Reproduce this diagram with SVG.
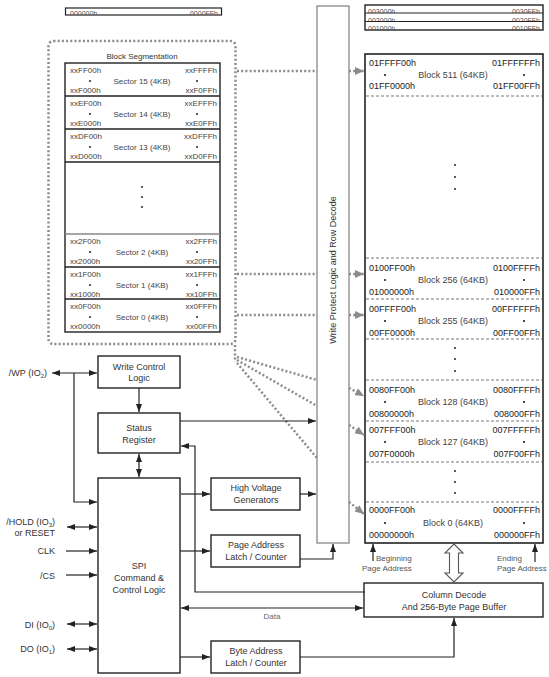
<svg xmlns="http://www.w3.org/2000/svg" width="549" height="677" viewBox="0 0 549 677">
<style>
text{font-family:"Liberation Sans",Arial,sans-serif;fill:#333}
.t9{font-size:9px}
.t8{font-size:8px;fill:#444}
.t7{font-size:7px;fill:#555}
.addr{font-size:9px;fill:#222}
.lbl{font-size:9px;fill:#444}
.box{fill:#fff;stroke:#222;stroke-width:1.4}
.ln{fill:none;stroke:#222;stroke-width:1.2}
.dot{fill:none;stroke:#8c8c8c;stroke-width:2.5;stroke-dasharray:2 2.2}
.dash{stroke:#555;stroke-width:0.8;stroke-dasharray:3 2}
.m{text-anchor:middle}
.e{text-anchor:end}
</style>
<defs>
<marker id="ab" viewBox="0 0 10 10" refX="10" refY="5" markerUnits="userSpaceOnUse" markerWidth="8" markerHeight="6" preserveAspectRatio="none" orient="auto-start-reverse"><path d="M0,0 L10,5 L0,10 z" fill="#222"/></marker>
<marker id="ag" viewBox="0 0 10 10" refX="10" refY="5" markerUnits="userSpaceOnUse" markerWidth="9" markerHeight="8" preserveAspectRatio="none" orient="auto"><path d="M0,0 L10,5 L0,10 z" fill="#8c8c8c"/></marker>
<clipPath id="r1"><rect x="365" y="5" width="178" height="8"/></clipPath>
<clipPath id="r2"><rect x="365" y="13" width="178" height="8.5"/></clipPath>
<clipPath id="r3"><rect x="365" y="21.5" width="178" height="8.5"/></clipPath>
<clipPath id="r0"><rect x="65" y="8" width="157" height="7"/></clipPath>
</defs>

<!-- top strips -->
<g id="strip-left">
<rect x="65.5" y="8" width="156" height="7" fill="#fff" stroke="#222" stroke-width="1.2"/>
<g clip-path="url(#r0)"><text class="t7" x="70" y="16">000000h</text><text class="t7 e" x="218" y="16">0000FFh</text></g>
</g>
<g id="strip-right">
<rect x="365" y="5" width="178" height="25" fill="#fff" stroke="#222" stroke-width="1.4"/>
<g clip-path="url(#r1)"><text class="t7" x="368" y="14">003000h</text><text class="t7 e" x="540" y="14">0030FFh</text></g>
<g clip-path="url(#r2)"><text class="t7" x="368" y="22.5">002000h</text><text class="t7 e" x="540" y="22.5">0020FFh</text></g>
<g clip-path="url(#r3)"><text class="t7" x="368" y="31">001000h</text><text class="t7 e" x="540" y="31">0010FFh</text></g>
<line x1="365" y1="13" x2="543" y2="13" stroke="#222" stroke-width="1"/>
<line x1="365" y1="21.5" x2="543" y2="21.5" stroke="#222" stroke-width="1"/>
</g>

<!-- block segmentation -->
<g id="block-segmentation">
<rect x="48.5" y="41" width="187" height="303" rx="5" fill="none" stroke="#8c8c8c" stroke-width="2.5" stroke-dasharray="2 2.2"/>
<text class="t8 m" x="142" y="59" style="fill:#333">Block Segmentation</text>
<rect x="65" y="63" width="155" height="269" fill="#fff" stroke="#222" stroke-width="1.4"/>
<g stroke="#222" stroke-width="1.3">
<line x1="65" y1="96" x2="220" y2="96"/><line x1="65" y1="129" x2="220" y2="129"/><line x1="65" y1="162" x2="220" y2="162"/>
<line x1="65" y1="234" x2="220" y2="234" stroke="#888"/><line x1="65" y1="267" x2="220" y2="267"/><line x1="65" y1="299" x2="220" y2="299"/>
</g>
<g id="sector15"><text class="t8" x="70" y="73">xxFF00h</text><text class="t8" x="70" y="93">xxF000h</text><text class="t8 e" x="217" y="73">xxFFFFh</text><text class="t8 e" x="217" y="93">xxF0FFh</text><text class="t8 m" x="142" y="84">Sector 15 (4KB)</text><circle cx="90" cy="81" r="1.1" fill="#333"/><circle cx="197" cy="81" r="1.1" fill="#333"/></g>
<g id="sector14"><text class="t8" x="70" y="106">xxEF00h</text><text class="t8" x="70" y="126">xxE000h</text><text class="t8 e" x="217" y="106">xxEFFFh</text><text class="t8 e" x="217" y="126">xxE0FFh</text><text class="t8 m" x="142" y="117">Sector 14 (4KB)</text><circle cx="90" cy="114" r="1.1" fill="#333"/><circle cx="197" cy="114" r="1.1" fill="#333"/></g>
<g id="sector13"><text class="t8" x="70" y="139">xxDF00h</text><text class="t8" x="70" y="159">xxD000h</text><text class="t8 e" x="217" y="139">xxDFFFh</text><text class="t8 e" x="217" y="159">xxD0FFh</text><text class="t8 m" x="142" y="150">Sector 13 (4KB)</text><circle cx="90" cy="147" r="1.1" fill="#333"/><circle cx="197" cy="147" r="1.1" fill="#333"/></g>
<g fill="#333"><circle cx="142" cy="187" r="1.1"/><circle cx="142" cy="197" r="1.1"/><circle cx="142" cy="207" r="1.1"/></g>
<g id="sector2"><text class="t8" x="70" y="244">xx2F00h</text><text class="t8" x="70" y="264">xx2000h</text><text class="t8 e" x="217" y="244">xx2FFFh</text><text class="t8 e" x="217" y="264">xx20FFh</text><text class="t8 m" x="142" y="255">Sector 2 (4KB)</text><circle cx="90" cy="252" r="1.1" fill="#333"/><circle cx="197" cy="252" r="1.1" fill="#333"/></g>
<g id="sector1"><text class="t8" x="70" y="277">xx1F00h</text><text class="t8" x="70" y="297">xx1000h</text><text class="t8 e" x="217" y="277">xx1FFFh</text><text class="t8 e" x="217" y="297">xx10FFh</text><text class="t8 m" x="142" y="288">Sector 1 (4KB)</text><circle cx="90" cy="285" r="1.1" fill="#333"/><circle cx="197" cy="285" r="1.1" fill="#333"/></g>
<g id="sector0"><text class="t8" x="70" y="309">xx0F00h</text><text class="t8" x="70" y="329">xx0000h</text><text class="t8 e" x="217" y="309">xx0FFFh</text><text class="t8 e" x="217" y="329">xx00FFh</text><text class="t8 m" x="142" y="320">Sector 0 (4KB)</text><circle cx="90" cy="317" r="1.1" fill="#333"/><circle cx="197" cy="317" r="1.1" fill="#333"/></g>
</g>

<!-- write protect column -->
<g id="write-protect">
<rect x="317" y="6" width="32" height="537" fill="#fff" stroke="#888" stroke-width="1.3"/>
<text class="t9 m" transform="translate(336,270) rotate(-90)">Write Protect Logic and Row Decode</text>
</g>

<!-- memory array -->
<g id="memory-array">
<rect x="365" y="54" width="178" height="489" fill="#fff" stroke="#222" stroke-width="1.6"/>
<g class="dash">
<line x1="366" y1="96" x2="542" y2="96"/><line x1="366" y1="258" x2="542" y2="258"/><line x1="366" y1="299" x2="542" y2="299"/><line x1="366" y1="339" x2="542" y2="339"/><line x1="366" y1="380" x2="542" y2="380"/><line x1="366" y1="421" x2="542" y2="421"/><line x1="366" y1="462" x2="542" y2="462"/><line x1="366" y1="502" x2="542" y2="502"/>
</g>
<g id="block511"><text class="addr" x="369" y="66">01FFFF00h</text><text class="addr" x="369" y="89">01FF0000h</text><text class="addr e" x="540" y="66">01FFFFFFh</text><text class="addr e" x="540" y="89">01FF00FFh</text><text class="lbl m" x="453" y="78">Block 511 (64KB)</text><circle cx="385" cy="75" r="1.1" fill="#222"/><circle cx="524" cy="75" r="1.1" fill="#222"/></g>
<g fill="#333"><circle cx="455" cy="165" r="1.1"/><circle cx="455" cy="177" r="1.1"/><circle cx="455" cy="189" r="1.1"/></g>
<g id="block256"><text class="addr" x="369" y="271">0100FF00h</text><text class="addr" x="369" y="295">01000000h</text><text class="addr e" x="540" y="271">0100FFFFh</text><text class="addr e" x="540" y="295">010000FFh</text><text class="lbl m" x="453" y="283">Block 256 (64KB)</text><circle cx="385" cy="280" r="1.1" fill="#222"/><circle cx="524" cy="280" r="1.1" fill="#222"/></g>
<g id="block255"><text class="addr" x="369" y="312">00FFFF00h</text><text class="addr" x="369" y="336">00FF0000h</text><text class="addr e" x="540" y="312">00FFFFFFh</text><text class="addr e" x="540" y="336">00FF00FFh</text><text class="lbl m" x="453" y="324">Block 255 (64KB)</text><circle cx="385" cy="321" r="1.1" fill="#222"/><circle cx="524" cy="321" r="1.1" fill="#222"/></g>
<g fill="#333"><circle cx="455" cy="348" r="1.1"/><circle cx="455" cy="359" r="1.1"/><circle cx="455" cy="371" r="1.1"/></g>
<g id="block128"><text class="addr" x="369" y="393">0080FF00h</text><text class="addr" x="369" y="417">00800000h</text><text class="addr e" x="540" y="393">0080FFFFh</text><text class="addr e" x="540" y="417">008000FFh</text><text class="lbl m" x="453" y="405">Block 128 (64KB)</text><circle cx="385" cy="402" r="1.1" fill="#222"/><circle cx="524" cy="402" r="1.1" fill="#222"/></g>
<g id="block127"><text class="addr" x="369" y="433">007FFF00h</text><text class="addr" x="369" y="457">007F0000h</text><text class="addr e" x="540" y="433">007FFFFFh</text><text class="addr e" x="540" y="457">007F00FFh</text><text class="lbl m" x="453" y="445">Block 127 (64KB)</text><circle cx="385" cy="442" r="1.1" fill="#222"/><circle cx="524" cy="442" r="1.1" fill="#222"/></g>
<g fill="#333"><circle cx="455" cy="471" r="1.1"/><circle cx="455" cy="482" r="1.1"/><circle cx="455" cy="493" r="1.1"/></g>
<g id="block0"><text class="addr" x="369" y="513">0000FF00h</text><text class="addr" x="369" y="538">00000000h</text><text class="addr e" x="540" y="513">0000FFFFh</text><text class="addr e" x="540" y="538">000000FFh</text><text class="lbl m" x="453" y="526">Block 0 (64KB)</text><circle cx="385" cy="523" r="1.1" fill="#222"/><circle cx="524" cy="523" r="1.1" fill="#222"/></g>
</g>

<!-- blocks -->
<g id="write-control"><rect class="box" x="98" y="356" width="82" height="32"/><text class="t9 m" x="139" y="370">Write Control</text><text class="t9 m" x="139" y="381">Logic</text></g>
<g id="status-register"><rect class="box" x="98" y="413" width="82" height="40"/><text class="t9 m" x="139" y="431">Status</text><text class="t9 m" x="139" y="443">Register</text></g>
<g id="spi"><rect class="box" x="98" y="478" width="82" height="195"/><text class="t9 m" x="139" y="569">SPI</text><text class="t9 m" x="139" y="581">Command &amp;</text><text class="t9 m" x="139" y="593">Control Logic</text></g>
<g id="high-voltage"><rect class="box" x="211" y="478" width="89" height="32"/><text class="t9 m" x="256" y="491">High Voltage</text><text class="t9 m" x="256" y="503">Generators</text></g>
<g id="page-address"><rect class="box" x="211" y="535" width="89" height="32"/><text class="t9 m" x="256" y="548">Page Address</text><text class="t9 m" x="256" y="560">Latch / Counter</text></g>
<g id="byte-address"><rect class="box" x="211" y="641" width="89" height="32"/><text class="t9 m" x="256" y="654">Byte Address</text><text class="t9 m" x="256" y="666">Latch / Counter</text></g>
<g id="column-decode"><rect class="box" x="364" y="583" width="179" height="34"/><text class="t9 m" x="454" y="598">Column Decode</text><text class="t9 m" x="454" y="610">And 256-Byte Page Buffer</text></g>

<!-- pin labels -->
<g id="pins">
<text class="t9 e" x="47" y="376">/WP (IO<tspan font-size="6" dy="2">2</tspan><tspan dy="-2">)</tspan></text>
<text class="t9 e" x="55" y="525">/HOLD (IO<tspan font-size="6" dy="2">3</tspan><tspan dy="-2">)</tspan></text>
<text class="t9 e" x="55" y="536">or RESET</text>
<text class="t9 e" x="55" y="554">CLK</text>
<text class="t9 e" x="55" y="579">/CS</text>
<text class="t9 e" x="55" y="628">DI (IO<tspan font-size="6" dy="2">0</tspan><tspan dy="-2">)</tspan></text>
<text class="t9 e" x="55" y="652">DO (IO<tspan font-size="6" dy="2">1</tspan><tspan dy="-2">)</tspan></text>
<text class="t8 m" x="272" y="619" style="fill:#666">Data</text>
<text class="t8" x="376" y="561" style="fill:#555">Beginning</text>
<text class="t8" x="362" y="571" style="fill:#555">Page Address</text>
<text class="t8" x="497" y="561" style="fill:#555">Ending</text>
<text class="t8" x="497" y="571" style="fill:#555">Page Address</text>
</g>

<!-- connectors -->
<g id="connectors">
<g class="dot">
<path d="M237,71 H317"/><path d="M349,71 H364" marker-end="url(#ag)"/>
<path d="M237,274 H317"/><path d="M349,274 H364" marker-end="url(#ag)"/>
<path d="M237,315 H317"/><path d="M349,315 H364" marker-end="url(#ag)"/>
<path d="M235,345 V362"/>
<path d="M237,357 L317,380"/>
<path d="M237,360 L317,406"/>
<path d="M237,363 L317,458"/>
<path d="M349,388 L364,396" marker-end="url(#ag)"/>
<path d="M349,425 L364,435" marker-end="url(#ag)"/>
<path d="M349,502 L364,514" marker-end="url(#ag)"/>
</g>
<g class="ln">
<path d="M52,373 H97" marker-start="url(#ab)" marker-end="url(#ab)"/>
<path d="M74,373 V502 H97" marker-end="url(#ab)"/>
<path d="M139,388 V412" marker-end="url(#ab)"/>
<path d="M139,454 V477" marker-start="url(#ab)" marker-end="url(#ab)"/>
<path d="M180,421 H316" marker-end="url(#ab)"/>
<path d="M365,592 H195 V446 H181" marker-end="url(#ab)"/>
<path d="M181,494 H210" marker-end="url(#ab)"/>
<path d="M300,494 H316" marker-end="url(#ab)"/>
<path d="M180,551 H210" marker-end="url(#ab)"/>
<path d="M300,559 H333 V544" marker-end="url(#ab)"/>
<path d="M181,608 H363" marker-start="url(#ab)" marker-end="url(#ab)"/>
<path d="M180,657 H210" marker-end="url(#ab)"/>
<path d="M300,657 H454 V618" marker-end="url(#ab)"/>
<path d="M67,527 H97" marker-start="url(#ab)" marker-end="url(#ab)"/>
<path d="M66,551 H97" marker-end="url(#ab)"/>
<path d="M66,575 H97" marker-end="url(#ab)"/>
<path d="M67,624 H97" marker-start="url(#ab)" marker-end="url(#ab)"/>
<path d="M67,649 H97" marker-start="url(#ab)" marker-end="url(#ab)"/>
<path d="M373,561 V544" marker-end="url(#ab)"/>
<path d="M535,562 V544" marker-end="url(#ab)"/>
</g>
<polygon points="454,544 463,553 458.5,553 458.5,573 463,573 454,582 445,573 449.5,573 449.5,553 445,553" fill="#fff" stroke="#555" stroke-width="1.1"/>
</g>
</svg>
